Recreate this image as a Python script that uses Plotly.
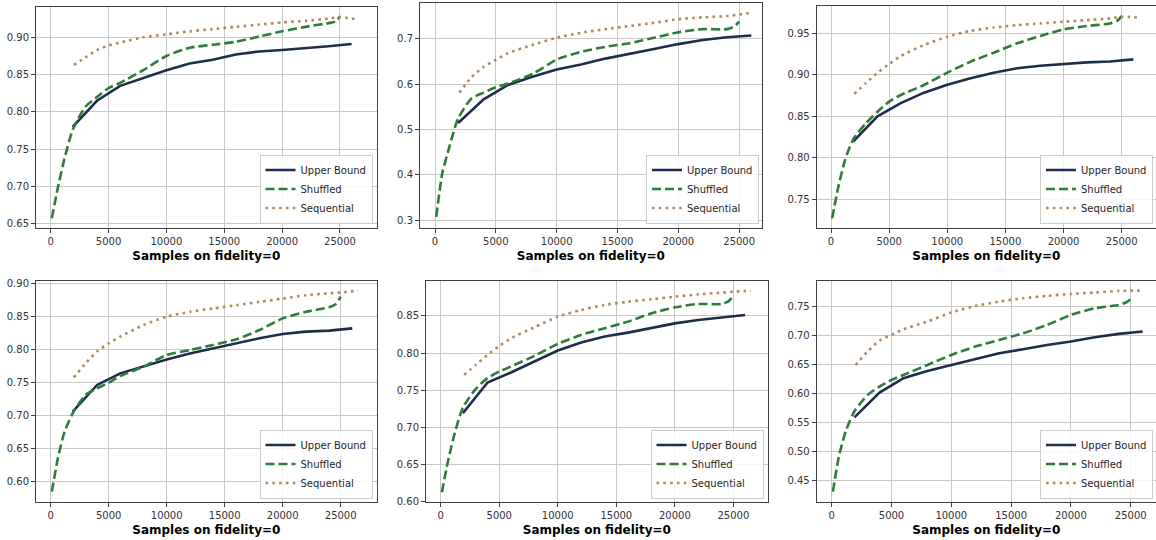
import plotly.graph_objects as go

# ---------------- data ----------------
ub_x = [1900, 4000, 6000, 8000, 10000, 12000, 14000, 16000, 18000, 20000, 22000, 24000, 26000]
sh_x = [100, 600, 1200, 1900, 3000, 4000, 5000, 6000, 8000, 10000, 12000, 14000, 16000,
        18000, 20000, 22000, 24000, 24600, 25000]
seq_x_long = [2000, 3000, 4000, 5000, 6000, 8000, 10000, 12000, 14000, 16000, 18000, 20000,
              22000, 24000, 25000, 26500]
seq_x_short = [2000, 3000, 4000, 5000, 6000, 8000, 10000, 12000, 14000, 16000, 18000, 20000,
               22000, 24000, 26000]

ub_1 = [0.780, 0.815, 0.835, 0.846, 0.856, 0.865, 0.870, 0.877, 0.881, 0.883, 0.885, 0.888, 0.891]
ub_2 = [0.514, 0.566, 0.598, 0.616, 0.632, 0.643, 0.656, 0.666, 0.677, 0.688, 0.697, 0.703, 0.707]
ub_3 = [0.8195, 0.850, 0.866, 0.8785, 0.888, 0.896, 0.9026, 0.908, 0.911, 0.913, 0.915, 0.916, 0.9187]
ub_4 = [0.7062, 0.7465, 0.764, 0.775, 0.785, 0.794, 0.802, 0.809, 0.817, 0.8235, 0.827, 0.8285, 0.832]
ub_5 = [0.7194, 0.7606, 0.774, 0.7887, 0.8035, 0.8142, 0.8223, 0.8276, 0.8335, 0.840, 0.8446, 0.848, 0.8513]
ub_6 = [0.5595, 0.602, 0.6267, 0.639, 0.6496, 0.6594, 0.6697, 0.6766, 0.684, 0.6898, 0.6972, 0.703, 0.707]

sh_1 = [0.6576, 0.697, 0.738, 0.776, 0.807, 0.820, 0.832, 0.839, 0.856, 0.875, 0.886, 0.890, 0.894,
        0.901, 0.908, 0.914, 0.919, 0.921, 0.928]
sh_2 = [0.307, 0.403, 0.463, 0.524, 0.568, 0.581, 0.593, 0.601, 0.622, 0.654, 0.671, 0.682, 0.690,
        0.702, 0.714, 0.721, 0.721, 0.727, 0.7375]
sh_3 = [0.727, 0.763, 0.797, 0.822, 0.8416, 0.8556, 0.8677, 0.8757, 0.8878, 0.9026, 0.9159, 0.9267,
        0.938, 0.9468, 0.9548, 0.9588, 0.962, 0.965, 0.9709]
sh_4 = [0.5854, 0.634, 0.676, 0.7037, 0.7314, 0.7414, 0.750, 0.760, 0.774, 0.7918, 0.7993, 0.807,
        0.8154, 0.8295, 0.847, 0.857, 0.8638, 0.869, 0.880]
sh_5 = [0.613, 0.653, 0.6926, 0.727, 0.752, 0.7664, 0.7753, 0.782, 0.7963, 0.8124, 0.8245, 0.8335,
        0.8424, 0.8536, 0.8616, 0.8661, 0.8661, 0.870, 0.8768]
sh_6 = [0.4316, 0.492, 0.537, 0.570, 0.598, 0.6123, 0.6238, 0.6324, 0.6496, 0.6668, 0.6812, 0.6926,
        0.7041, 0.7184, 0.7357, 0.7471, 0.7529, 0.757, 0.7626]

seq_1 = [0.863, 0.873, 0.883, 0.889, 0.893, 0.900, 0.904, 0.908, 0.911, 0.914, 0.917, 0.920,
         0.922, 0.925, 0.927, 0.924]
seq_2 = [0.581, 0.615, 0.638, 0.653, 0.668, 0.686, 0.702, 0.713, 0.721, 0.728, 0.735, 0.743,
         0.747, 0.750, 0.757]
seq_3 = [0.877, 0.890, 0.9026, 0.913, 0.9227, 0.936, 0.946, 0.953, 0.957, 0.960, 0.962, 0.964,
         0.966, 0.968, 0.970, 0.969]
seq_4 = [0.758, 0.779, 0.797, 0.8094, 0.8195, 0.837, 0.8497, 0.857, 0.862, 0.867, 0.872, 0.877,
         0.882, 0.885, 0.886, 0.889]
seq_5 = [0.7708, 0.7843, 0.7977, 0.8097, 0.820, 0.8348, 0.849, 0.858, 0.8648, 0.8692, 0.8724, 0.876,
         0.879, 0.8813, 0.8826, 0.884]
seq_6 = [0.6496, 0.6726, 0.6915, 0.7012, 0.711, 0.7242, 0.7397, 0.7511, 0.7586, 0.7643, 0.7684,
         0.7718, 0.7741, 0.777, 0.7775]

series_names = ["Upper Bound", "Shuffled", "Sequential"]
x_title = "Samples on fidelity=0"
x_ticks = [0, 5000, 10000, 15000, 20000, 25000]
y_ticks_1 = [0.65, 0.70, 0.75, 0.80, 0.85, 0.90]
y_ticks_2 = [0.3, 0.4, 0.5, 0.6, 0.7]
y_ticks_3 = [0.75, 0.80, 0.85, 0.90, 0.95]
y_ticks_4 = [0.60, 0.65, 0.70, 0.75, 0.80, 0.85, 0.90]
y_ticks_5 = [0.60, 0.65, 0.70, 0.75, 0.80, 0.85]
y_ticks_6 = [0.45, 0.50, 0.55, 0.60, 0.65, 0.70, 0.75]

# ---------------- layout / style ----------------
W, H = 1156, 540
C_UB = "#1f2d4d"
C_SH = "#2e7b3c"
C_SEQ = "#b5875a"
FONT = "DejaVu Sans"

panels = [
    # pixel box (left, right, top, bottom), x range, y range, data
    dict(box=(36, 376.7, 6.7, 228.3), xr=[-1268, 28172], yr=[0.6442, 0.941], ub=ub_1, sh=sh_1,
         seqx=seq_x_long, seq=seq_1, yt=y_ticks_1, fmt=".2f", leg=(372.5, 223.5)),
    dict(box=(420, 761.7, 3.3, 228.3), xr=[-1233, 26852], yr=[0.2817, 0.778], ub=ub_2, sh=sh_2,
         seqx=seq_x_short, seq=seq_2, yt=y_ticks_2, fmt=".1f", leg=(759, 223.5)),
    dict(box=(816.7, 1156, 6, 228.3), xr=[-1230, 27952], yr=[0.715, 0.983], ub=ub_3, sh=sh_3,
         seqx=seq_x_long, seq=seq_3, yt=y_ticks_3, fmt=".2f", leg=(1153, 223.5)),
    dict(box=(36, 376.7, 281, 502.3), xr=[-1265, 28105], yr=[0.5693, 0.9035], ub=ub_4, sh=sh_4,
         seqx=seq_x_long, seq=seq_4, yt=y_ticks_4, fmt=".2f", leg=(372.5, 498.5)),
    dict(box=(426, 767.7, 281, 502.3), xr=[-1256, 27932], yr=[0.5995, 0.897], ub=ub_5, sh=sh_5,
         seqx=seq_x_long, seq=seq_5, yt=y_ticks_5, fmt=".2f", leg=(763.5, 498.5)),
    dict(box=(816.7, 1156, 281, 502.3), xr=[-1254, 27115], yr=[0.4133, 0.794], ub=ub_6, sh=sh_6,
         seqx=seq_x_short, seq=seq_6, yt=y_ticks_6, fmt=".2f", leg=(1153, 498.5)),
]

fig = go.Figure()
layout = dict(
    width=W, height=H, margin=dict(l=0, r=0, t=0, b=0, autoexpand=False),
    paper_bgcolor="white", plot_bgcolor="white",
    font=dict(family=FONT, size=10, color="#262626"),
)

for i, p in enumerate(panels, start=1):
    sfx = "" if i == 1 else str(i)
    xa, ya = "x" + sfx, "y" + sfx
    leg = "legend" + sfx
    l, r, t, b = p["box"]
    fig.add_trace(go.Scatter(x=ub_x, y=p["ub"], mode="lines", name=series_names[0],
                             line=dict(color=C_UB, width=2.6), xaxis=xa, yaxis=ya, legend=leg))
    fig.add_trace(go.Scatter(x=sh_x, y=p["sh"], mode="lines", name=series_names[1],
                             line=dict(color=C_SH, width=2.6, dash="9px,4px", shape="spline",
                                       smoothing=0.6),
                             xaxis=xa, yaxis=ya, legend=leg))
    fig.add_trace(go.Scatter(x=p["seqx"], y=p["seq"], mode="lines", name=series_names[2],
                             line=dict(color=C_SEQ, width=2.6, dash="2.6px,4.2px", shape="spline",
                                       smoothing=0.6),
                             xaxis=xa, yaxis=ya, legend=leg))
    axis_common = dict(showgrid=True, gridcolor="#c8c8c8", gridwidth=1, zeroline=False,
                       showline=True, linecolor="#404040", linewidth=1, mirror=True,
                       ticks="outside", ticklen=4, tickcolor="#404040", automargin=False,
                       tickfont=dict(family=FONT, size=10, color="#333333"))
    layout["xaxis" + sfx] = dict(
        axis_common, domain=[l / W, min(r / W, 1.0)], range=p["xr"], anchor=ya,
        tickvals=x_ticks, tickformat="d",
        title=dict(text="<b>" + x_title + "</b>", standoff=5,
                   font=dict(family=FONT, size=12, color="#000000")))
    layout["yaxis" + sfx] = dict(
        axis_common, domain=[1 - b / H, 1 - t / H], range=p["yr"], anchor=xa,
        tickvals=p["yt"], tickformat=p["fmt"])
    lx, ly = p["leg"]
    layout[leg] = dict(x=lx / W, y=1 - ly / H, xanchor="right", yanchor="bottom",
                       bgcolor="rgba(255,255,255,0.85)", bordercolor="#cccccc", borderwidth=1,
                       font=dict(family=FONT, size=10, color="#262626"),
                       itemwidth=30, traceorder="normal", tracegroupgap=0)

fig.update_layout(**layout)
fig.write_html("out.html", config={"displayModeBar": False},
               post_script="document.body.style.margin='0px';document.body.style.overflow='hidden';")
